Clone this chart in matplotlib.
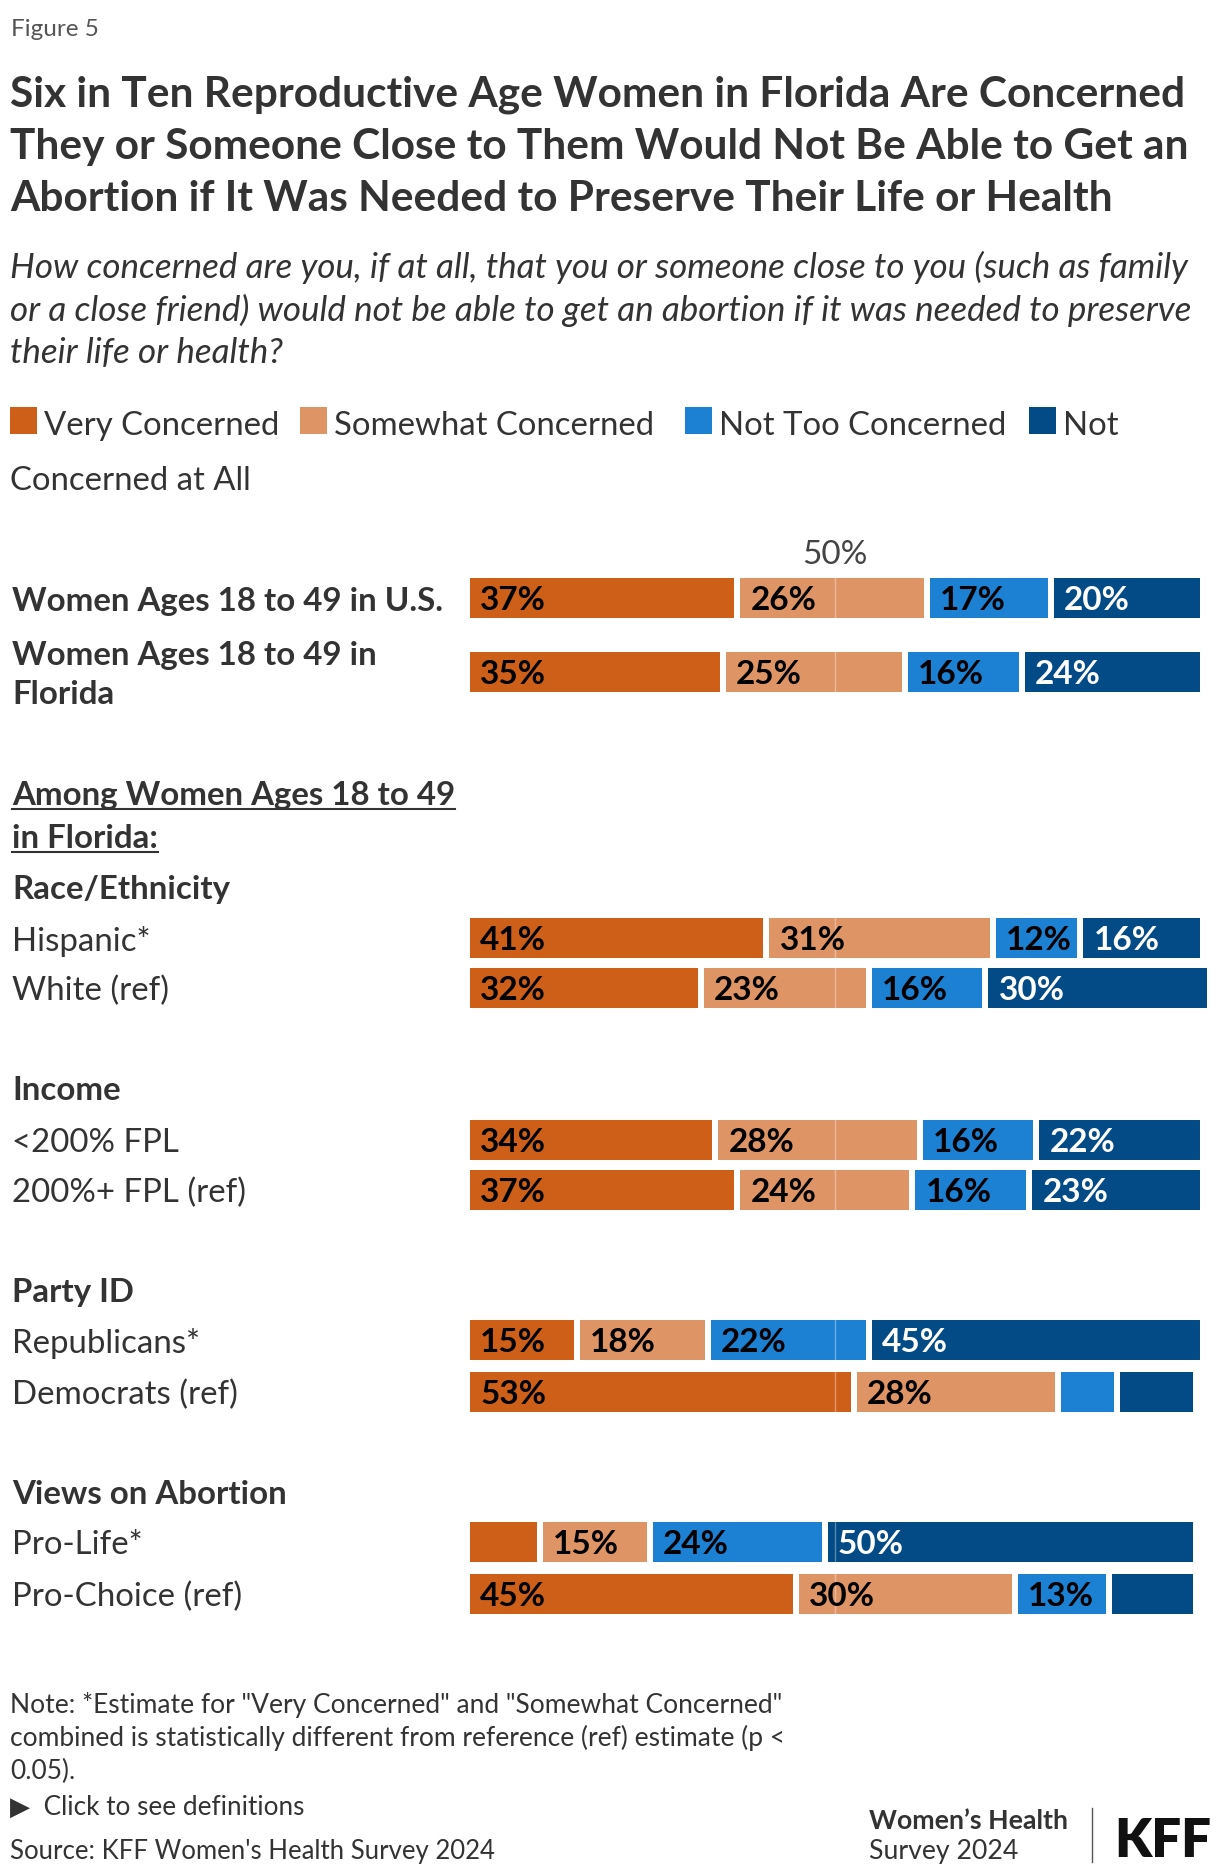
import matplotlib
matplotlib.use("Agg")
import matplotlib.pyplot as plt
from matplotlib.patches import Rectangle
from matplotlib.lines import Line2D

plt.rcParams['font.family'] = ['Lato', 'DejaVu Sans']

W, H = 1220, 1876

categories = ["Very Concerned", "Somewhat Concerned", "Not Too Concerned", "Not Concerned at All"]
colors = ["#CE5F19", "#DF9466", "#1C80D3", "#024B87"]
label_colors = ["#000000", "#000000", "#000000", "#FFFFFF"]

rows = ["Women Ages 18 to 49 in U.S.", "Women Ages 18 to 49 in\nFlorida",
        "Hispanic*", "White (ref)", "<200% FPL", "200%+ FPL (ref)",
        "Republicans*", "Democrats (ref)", "Pro-Life*", "Pro-Choice (ref)"]
very = [37, 35, 41, 32, 34, 37, 15, 53, 10, 45]
somewhat = [26, 25, 31, 23, 28, 24, 18, 28, 15, 30]
not_too = [17, 16, 12, 16, 16, 16, 22, 8, 24, 13]
not_at_all = [20, 24, 16, 30, 22, 23, 45, 10, 50, 11]
series = [very, somewhat, not_too, not_at_all]

groups = ["Race/Ethnicity", "Income", "Party ID", "Views on Abortion"]

# layout (pixels from top)
row_y = [598, 672, 938, 988, 1140, 1190, 1340, 1392, 1542, 1594]
group_y = [886, 1087, 1289, 1491]
bar_h = 40
x0 = 470
px_per_pct = 7.3

TXT = "#333333"
DY = 3  # text centre offset


def fp(x, y):
    return x / W, 1 - y / H


fig = plt.figure(figsize=(W / 100, H / 100), dpi=100)
fig.patch.set_facecolor("white")

fig.text(*fp(11, 26 + DY), "Figure 5", fontsize=17.5, color="#555555", va="center")
title = ["Six in Ten Reproductive Age Women in Florida Are Concerned",
         "They or Someone Close to Them Would Not Be Able to Get an",
         "Abortion if It Was Needed to Preserve Their Life or Health"]
for i, line in enumerate(title):
    fig.text(*fp(10, 92 + DY + 52 * i), line, fontsize=30.5, fontweight="bold", color=TXT, va="center")
sub = ["How concerned are you, if at all, that you or someone close to you (such as family",
       "or a close friend) would not be able to get an abortion if it was needed to preserve",
       "their life or health?"]
for i, line in enumerate(sub):
    fig.text(*fp(10, 264 + DY + 43 * i), line, fontsize=25.2, fontstyle="italic", color=TXT, va="center")

# legend, wrapped like the original
leg_pos = [(10, 421), (300, 421), (685, 421), (1029, 421)]
for (lx, ly), c, name in zip(leg_pos, colors, categories):
    fig.patches.append(Rectangle(fp(lx, ly + 13.5), 27 / W, 27 / H, transform=fig.transFigure,
                                 facecolor=c, edgecolor="none"))
    if name == "Not Concerned at All":
        fig.text(*fp(lx + 34, ly + DY + 2), "Not", fontsize=23.7, color=TXT, va="center")
        fig.text(*fp(10, 476 + DY + 2), "Concerned at All", fontsize=23.7, color=TXT, va="center")
    else:
        fig.text(*fp(lx + 34, ly + DY + 2), name, fontsize=23.7, color=TXT, va="center")

# bars
ax = fig.add_axes([x0 / W, 0, (W - x0) / W, 1])
ax.set_xlim(0, (W - x0) / px_per_pct)
ax.set_ylim(H, 0)
ax.axis("off")
gap = 6 / px_per_pct

for r, y in enumerate(row_y):
    left = 0
    for s, vals in enumerate(series):
        v = vals[r]
        w = v if s == len(series) - 1 else v - gap
        ax.barh(y, w, left=left, height=bar_h, color=colors[s], edgecolor="none")
        if v >= 12:
            ax.text(left + 1.4, y + DY, f"{v}%", color=label_colors[s], fontsize=24,
                    fontweight="bold", va="center", ha="left")
        left += v

ax.plot([50, 50], [row_y[0] - bar_h / 2, row_y[-1] + bar_h / 2], color="white", alpha=0.35, lw=1)
ax.text(50, 552 + DY, "50%", ha="center", va="center", fontsize=24, color="#444444")

# row labels
for r, (lab, y) in enumerate(zip(rows, row_y)):
    bold = r < 2
    fig.text(*fp(12, y + DY), lab, fontsize=23.8, fontweight="bold" if bold else "normal",
             color=TXT, va="center", linespacing=1.45)
for g, y in zip(groups, group_y):
    fig.text(*fp(12, y + DY), g, fontsize=23.8, fontweight="bold", color=TXT, va="center")

among = []
for i, line in enumerate(["Among Women Ages 18 to 49", "in Florida:"]):
    among.append(fig.text(*fp(12, 793 + DY + 43 * i), line, fontsize=23.8, fontweight="bold",
                          color=TXT, va="center"))

# footer
notes = ['Note: *Estimate for "Very Concerned" and "Somewhat Concerned"',
         'combined is statistically different from reference (ref) estimate (p <',
         '0.05).']
for i, line in enumerate(notes):
    fig.text(*fp(10, 1702 + DY + 33 * i), line, fontsize=19, color=TXT, va="center")
fig.text(*fp(10, 1804 + DY), "\u25B6  Click to see definitions", fontsize=18.8, color=TXT, va="center")
fig.text(*fp(10, 1848 + DY), "Source: KFF Women's Health Survey 2024", fontsize=18.5, color=TXT, va="center")
fig.text(*fp(869, 1818 + DY), "Women\u2019s Health", fontsize=19.2, fontweight="bold", color=TXT, va="center")
fig.text(*fp(869, 1848 + DY), "Survey 2024", fontsize=19.2, color=TXT, va="center")
fig.lines.append(Line2D([1092 / W, 1092 / W], [1 - 1808 / H, 1 - 1862 / H], transform=fig.transFigure,
                        color="#555555", lw=1))
fig.text(*fp(1211, 1838 + DY), "KFF", fontsize=38, fontweight="heavy", color="#111111",
         va="center", ha="right")

# underline the "Among..." heading
fig.canvas.draw()
rend = fig.canvas.get_renderer()
for t in among:
    bb = t.get_window_extent(rend)
    yy = bb.y0 + 1
    fig.lines.append(Line2D([bb.x0 / W, bb.x1 / W], [yy / H, yy / H], transform=fig.transFigure,
                            color=TXT, lw=1.5))

fig.savefig("out.png", dpi=100, facecolor="white")
